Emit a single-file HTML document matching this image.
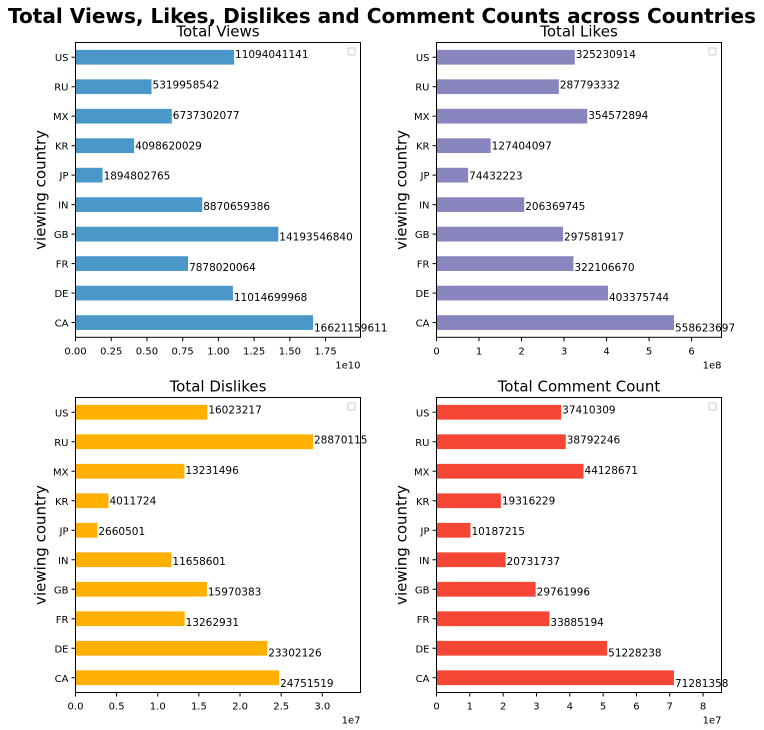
<!DOCTYPE html>
<html><head><meta charset="utf-8"><style>
body{margin:0;background:#fff}
svg{display:block;font-family:"DejaVu Sans","Liberation Sans",sans-serif}
</style></head><body>
<svg id="fig" width="764" height="730" viewBox="0 0 764 730">
<text x="382" y="23" text-anchor="middle" font-size="20" font-weight="bold" textLength="748" lengthAdjust="spacingAndGlyphs">Total Views, Likes, Dislikes and Comment Counts across Countries</text>
</svg>
<script>
const countries = ["CA","DE","FR","GB","IN","JP","KR","MX","RU","US"];
const views = [16621159611,11014699968,7878020064,14193546840,8870659386,1894802765,4098620029,6737302077,5319958542,11094041141];
const likes = [558623697,403375744,322106670,297581917,206369745,74432223,127404097,354572894,287793332,325230914];
const dislikes = [24751519,23302126,13262931,15970383,11658601,2660501,4011724,13231496,28870115,16023217];
const comments = [71281358,51228238,33885194,29761996,20731737,10187215,19316229,44128671,38792246,37410309];
const viewTicks = ["0.00","0.25","0.50","0.75","1.00","1.25","1.50","1.75"];
const likeTicks = ["0","1","2","3","4","5","6"];
const dislikeTicks = ["0.0","0.5","1.0","1.5","2.0","2.5","3.0"];
const commentTicks = ["0","1","2","3","4","5","6","7","8"];

const NS="http://www.w3.org/2000/svg";
const svg=document.getElementById('fig');
function mk(tag,attrs,parent){const e=document.createElementNS(NS,tag);for(const k in attrs)e.setAttribute(k,attrs[k]);(parent||svg).appendChild(e);return e;}

const panels=[
 {title:"Total Views",vals:views,ticks:viewTicks,scale:1e10,exp:"1e10",color:"#4a98c9",x0:75.5,x1:360.5,y0:42.5,y1:337.3,key:"views"},
 {title:"Total Likes",vals:likes,ticks:likeTicks,scale:1e8,exp:"1e8",color:"#8985be",x0:436.5,x1:721.5,y0:42.5,y1:337.3,key:"likes"},
 {title:"Total Dislikes",vals:dislikes,ticks:dislikeTicks,scale:1e7,exp:"1e7",color:"#ffb000",x0:75.5,x1:360.5,y0:397.5,y1:692.5,key:"dislikes"},
 {title:"Total Comment Count",vals:comments,ticks:commentTicks,scale:1e7,exp:"1e7",color:"#f44535",x0:436.5,x1:721.5,y0:397.5,y1:692.5,key:"comments"}
];

panels.forEach(p=>{
 const g=mk('g',{});
 
 
 const xmax=Math.max(...p.vals)*1.2;
 const xs=v=>p.x0+(v/xmax)*(p.x1-p.x0);
 const n=countries.length;
 const step=(p.y1-p.y0)/n;
 const yc=i=>p.y1-step*(i+0.5);
 const t=mk('text',{x:(p.x0+p.x1)/2,y:p.y0-6,'text-anchor':'middle','font-size':15},g);
 t.textContent=p.title;
 
 
 countries.forEach((c,i)=>{
  const v=p.vals[i];
  const r=mk('rect',{x:p.x0,y:yc(i)-step*0.25,width:xs(v)-p.x0,height:step*0.5,fill:p.color},g);
  
  
  const lb=mk('text',{x:xs(v)+1,y:yc(i)+9-8*i/9,'font-size':10.5},g);
  lb.textContent=String(v);
  
  
  mk('line',{x1:p.x0-4,x2:p.x0,y1:yc(i),y2:yc(i),stroke:'#000','stroke-width':1},g);
  const tl=mk('text',{x:p.x0-7,y:yc(i)+4,'font-size':10,'text-anchor':'end'},g);
  tl.textContent=c;
  
  
 });
 p.ticks.forEach(tk=>{
  const x=xs(parseFloat(tk)*p.scale);
  mk('line',{x1:x,x2:x,y1:p.y1,y2:p.y1+4,stroke:'#000','stroke-width':1},g);
  const tt=mk('text',{x:x,y:p.y1+17,'font-size':10,'text-anchor':'middle'},g);
  tt.textContent=tk;
  
  
 });
 const ex=mk('text',{x:p.x1,y:p.y1+31,'font-size':10,'text-anchor':'end'},g);
 ex.textContent=p.exp;
 
 
 const fr=mk('rect',{x:p.x0,y:p.y0,width:p.x1-p.x0,height:p.y1-p.y0,fill:'none',stroke:'#000','stroke-width':1},g);
 
 
 const lg=mk('rect',{x:p.x1-12.5,y:p.y0+5.5,width:7,height:7,rx:1.5,fill:'#fff',stroke:'#ccc','stroke-width':1},g);
 
 
 const yl=mk('text',{x:0,y:0,'font-size':15,'text-anchor':'middle',transform:`translate(${p.x0-30},${(p.y0+p.y1)/2}) rotate(-90)`},g);
 yl.textContent='viewing country';
 
 
});
</script>
</body></html>
